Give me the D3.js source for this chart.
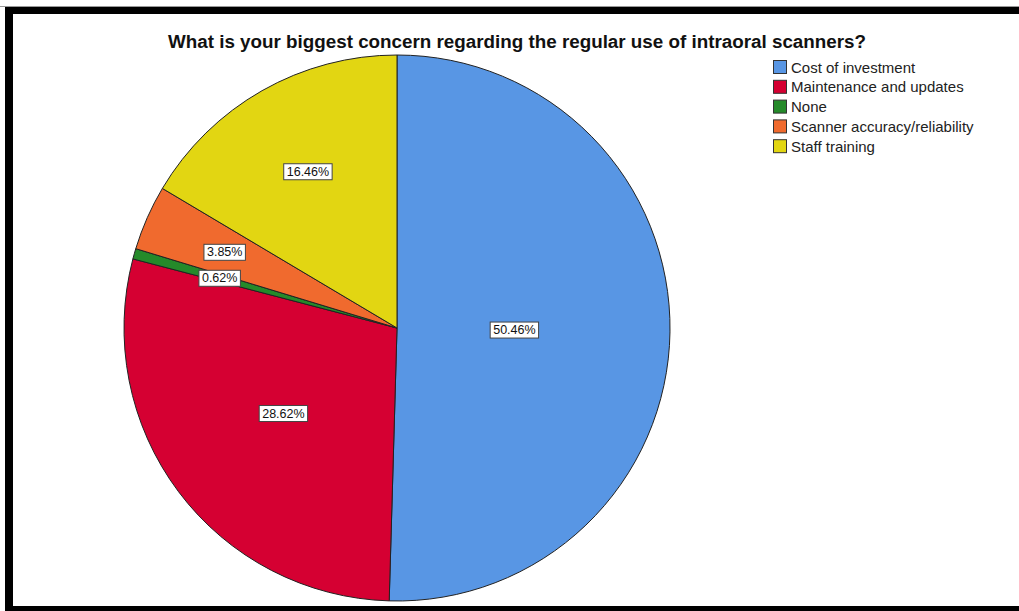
<!DOCTYPE html>
<html>
<head>
<meta charset="utf-8">
<script src="https://cdn.jsdelivr.net/npm/d3@7"></script>
<style>
  body { margin: 0; background: #fff; }
  svg { display: block; font-family: "Liberation Sans", Arial, sans-serif; }
</style>
</head>
<body>
<div id="visualization"></div>
<script>
// chart data
const categories = ['Cost of investment', 'Maintenance and updates', 'None', 'Scanner accuracy/reliability', 'Staff training'];
const percents = [50.46, 28.62, 0.62, 3.85, 16.46];
const colors = ['#5896e4', '#d50032', '#258a2a', '#f06a2e', '#e2d612'];
// how far out each percent label sits (fraction of radius)
const labelRadius = [0.43, 0.52, 0.675, 0.69, 0.66];

const width = 1019, height = 611;
const cx = 397, cy = 328, radius = 273;

const svg = d3.select("#visualization")
    .append("svg")
    .attr("width", width)
    .attr("height", height);

svg.append("rect").attr("width", width).attr("height", height).attr("fill", "#fff");

// frame
svg.append("line").attr("x1", 0).attr("x2", width).attr("y1", 6.5).attr("y2", 6.5)
    .attr("stroke", "#999").attr("stroke-width", 1);
svg.append("rect").attr("x", 5).attr("y", 7).attr("width", width - 5).attr("height", 7).attr("fill", "#000");
svg.append("rect").attr("x", 5).attr("y", 7).attr("width", 8).attr("height", height - 7).attr("fill", "#000");
svg.append("rect").attr("x", 5).attr("y", 606).attr("width", width - 5).attr("height", 5).attr("fill", "#000");

// title
svg.append("text")
    .attr("x", 517)
    .attr("y", 48)
    .attr("text-anchor", "middle")
    .attr("textLength", 698)
    .attr("lengthAdjust", "spacingAndGlyphs")
    .style("font-size", "18px")
    .style("font-weight", "bold")
    .attr("fill", "#111")
    .text("What is your biggest concern regarding the regular use of intraoral scanners?");

const pie = d3.pie().value(d => d).sort(null);
const data_ready = pie(percents);

const arcGenerator = d3.arc().innerRadius(0).outerRadius(radius);

const g = svg.append("g").attr("transform", `translate(${cx}, ${cy})`);

g.selectAll('path')
    .data(data_ready)
    .join('path')
    .attr('d', arcGenerator)
    .attr('fill', (d, i) => colors[i])
    .attr("stroke", "#222")
    .style("stroke-width", "1px");

// percent labels in white boxes
const labels = g.selectAll('g.lbl')
    .data(data_ready)
    .join('g')
    .attr('class', 'lbl')
    .attr('transform', (d, i) => {
        const r = labelRadius[i] * radius;
        const c = d3.arc().innerRadius(r).outerRadius(r).centroid(d);
        return `translate(${c})`;
    });

labels.each(function (d, i) {
    const el = d3.select(this);
    const t = el.append('text')
        .attr('text-anchor', 'middle')
        .attr('dy', '0.35em')
        .style('font-size', '12.5px')
        .attr('fill', '#111')
        .text(percents[i].toFixed(2) + '%');
    const bb = t.node().getBBox();
    el.insert('rect', 'text')
        .attr('x', bb.x - 3)
        .attr('y', bb.y - 1)
        .attr('width', bb.width + 6)
        .attr('height', bb.height + 2)
        .attr('fill', '#fff')
        .attr('stroke', '#444')
        .style('stroke-width', '1px');
});

// legend
const legend = svg.append("g").attr("transform", "translate(773, 60)");
const rows = legend.selectAll('g')
    .data(categories)
    .join('g')
    .attr('transform', (d, i) => `translate(0, ${i * 19.8})`);

rows.append('rect')
    .attr('x', 0.5).attr('y', 0.5)
    .attr('width', 13).attr('height', 13)
    .attr('fill', (d, i) => colors[i])
    .attr('stroke', '#333');

rows.append('text')
    .attr('x', 18)
    .attr('y', 12.5)
    .style('font-size', '15px')
    .attr('fill', '#222')
    .text(d => d);
</script>
</body>
</html>
